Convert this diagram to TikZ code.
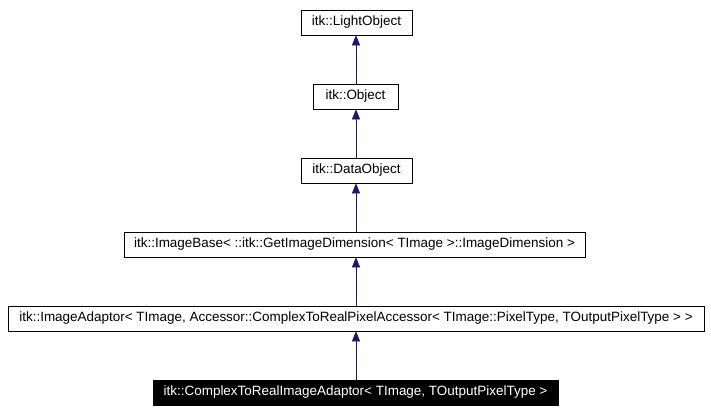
\documentclass[tikz,border=0pt]{standalone}
\usepackage{fontspec}
\setmainfont{Liberation Sans}
\usetikzlibrary{arrows.meta}
\begin{document}
\begin{tikzpicture}[x=0.75pt,y=-0.75pt,
  box/.style={draw=black,fill=white,inner sep=0pt,minimum height=25*0.75pt,font=\fontsize{10.1pt}{11pt}\selectfont},
  hl/.style={box,fill=black,text=white},
  inh/.style={draw={rgb,255:red,25;green,25;blue,112},-{Triangle[length=7.5pt,width=6pt]}}]
\useasboundingbox (0,0) rectangle (711,415);
\node[box,minimum width=111*0.75pt] (lo) at (356.5,22.5) {itk::LightObject};
\node[box,minimum width=85*0.75pt] (ob) at (355.5,96.5) {itk::Object};
\node[box,minimum width=111*0.75pt] (do) at (356.5,170.5) {itk::DataObject};
\node[box,minimum width=461*0.75pt] (ib) at (354.5,244.5) {itk::ImageBase< ::itk::GetImageDimension< TImage >::ImageDimension >};
\node[box,minimum width=696*0.75pt] (ia) at (356,318.5) {itk::ImageAdaptor< TImage, Accessor::ComplexToRealPixelAccessor< TImage::PixelType, TOutputPixelType > >};
\node[hl,minimum width=405*0.75pt] (cr) at (355.5,392.5) {itk::ComplexToRealImageAdaptor< TImage, TOutputPixelType >};
\draw[inh] (cr.north -| 356,0) -- (ia.south -| 356,0);
\draw[inh] (ia.north -| 356,0) -- (ib.south -| 356,0);
\draw[inh] (ib.north -| 356,0) -- (do.south -| 356,0);
\draw[inh] (do.north -| 356,0) -- (ob.south -| 356,0);
\draw[inh] (ob.north -| 356,0) -- (lo.south -| 356,0);
\end{tikzpicture}
\end{document}
